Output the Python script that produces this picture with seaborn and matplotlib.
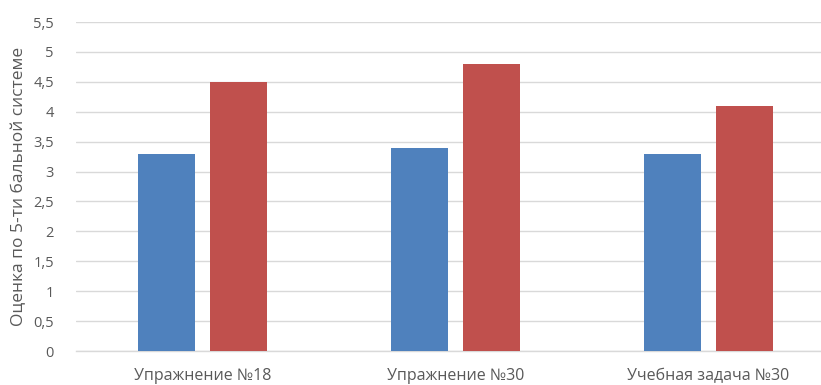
import matplotlib
matplotlib.use("Agg")
import matplotlib.pyplot as plt
import seaborn as sns
import pandas as pd

categories = ["Упражнение №18", "Упражнение №30", "Учебная задача №30"]
series_names = ["До", "После"]
before = [3.3, 3.4, 3.3]
after = [4.5, 4.8, 4.1]
y_ticks = [0, 0.5, 1, 1.5, 2, 2.5, 3, 3.5, 4, 4.5, 5, 5.5]
y_tick_labels = ["0", "0,5", "1", "1,5", "2", "2,5", "3", "3,5", "4", "4,5", "5", "5,5"]
y_label = "Оценка по 5-ти бальной системе"

df = pd.DataFrame({
    "category": categories * 2,
    "series": [series_names[0]] * 3 + [series_names[1]] * 3,
    "value": before + after,
})

sns.set_theme(style="white")
plt.rcParams["font.family"] = ["Open Sans", "DejaVu Sans"]

fig = plt.figure(figsize=(8.21, 3.85), dpi=100)
ax = fig.add_axes([0.0926, 0.0883, 0.9074, 0.8545])

sns.barplot(data=df, x="category", y="value", hue="series",
            palette=["#4F81BD", "#C0504D"], saturation=1, width=0.57, gap=0.21,
            order=categories, hue_order=series_names, legend=False,
            errorbar=None, ax=ax, zorder=3, linewidth=0)

ax.set_ylim(0, 5.5)
ax.set_xlim(-0.5, 2.445)
ax.set_yticks(y_ticks)
ax.set_yticklabels(y_tick_labels)
ax.yaxis.grid(True, color="#D9D9D9", linewidth=1)
ax.set_axisbelow(True)
for s in ["top", "right", "left"]:
    ax.spines[s].set_visible(False)
ax.spines["bottom"].set_color("#D9D9D9")
ax.spines["bottom"].set_linewidth(1)
ax.tick_params(axis="both", length=0, colors="#595959")
ax.tick_params(axis="y", pad=16, labelsize=10.5)
ax.tick_params(axis="x", pad=12, labelsize=11.5)
ax.set_xlabel("")
ax.set_ylabel(y_label, color="#595959", fontsize=12.5, labelpad=4)

fig.savefig("out.png", dpi=100)
